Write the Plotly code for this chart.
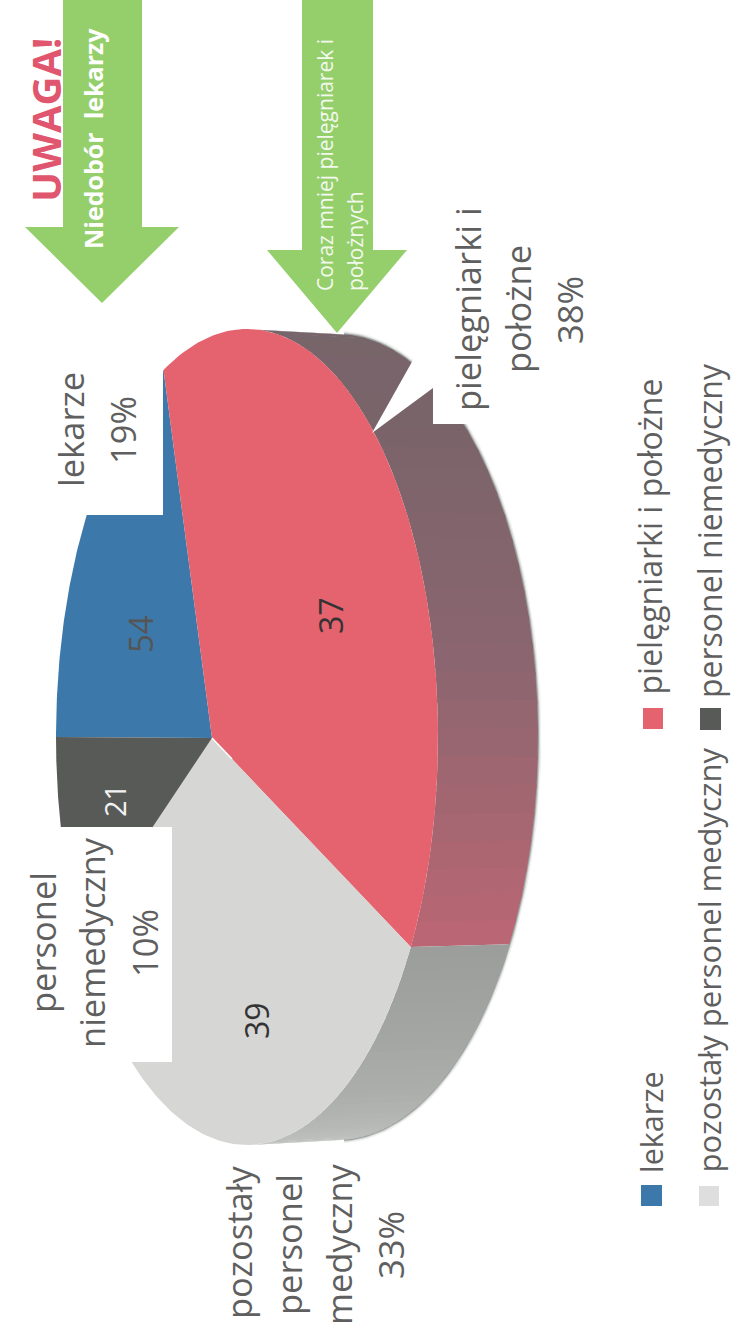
import numpy as np
import plotly.graph_objects as go

# --- data ---
categories = ["lekarze", "pielęgniarki i położne", "pozostały personel medyczny", "personel niemedyczny"]
percent_labels = ["19%", "38%", "33%", "10%"]
value_labels = ["54", "37", "39", "21"]
drawn_shares = [17.8, 40.8, 33.3, 8.1]   # angular share of each slice as drawn

colors = ["#3c79aa", "#e5626f", "#d6d6d5", "#585a58"]
W, H = 731, 1344
FONT = "Open Sans"
TEXT = "#5f5f5f"

# ellipse geometry of the tilted pie: top face and lower (outer) rim
cx, cy, a, b = 247, 737, 191, 408
ocx, ocy, oa, ob = 337, 737, 201, 403
apex = (212, 738)
start_deg = 180.0


def rim(t_deg):
    t = np.radians(t_deg)
    return cx + a * np.cos(t), cy + b * np.sin(t)


def outer(t_deg):
    t = np.radians(t_deg)
    return ocx + oa * np.cos(t), ocy + ob * np.sin(t)


def mix(stops, f):
    pts = np.array(stops, float)
    xs = np.linspace(0, 1, len(pts))
    c = [np.interp(f, xs, pts[:, i]) for i in range(3)]
    return "rgb(%d,%d,%d)" % tuple(c)


edges = start_deg + np.cumsum([0] + [s / sum(drawn_shares) * 360 for s in drawn_shares])

fig = go.Figure()

# soft shadow around the outer rim
ts = np.linspace(272, 448, 160)
ox, oy = outer(ts)
for w, op in [(7, 0.10), (4, 0.22), (2, 0.45)]:
    fig.add_trace(go.Scatter(x=ox, y=oy, mode="lines", line=dict(color=f"rgba(95,105,100,{op})", width=w),
                             hoverinfo="skip", showlegend=False))

# side wall, split by the slice edge
red_stops = [(118, 102, 106), (122, 100, 106), (140, 102, 112), (186, 102, 116)]
gray_stops = [(156, 158, 156), (172, 174, 172), (196, 198, 196)]
wall_break = edges[2]
for lo, hi, stops in [(270.0, wall_break, red_stops), (wall_break, 450.0, gray_stops)]:
    steps = np.linspace(lo, hi, 31)
    for i in range(30):
        tt = np.linspace(steps[i], min(steps[i + 1] + 0.6, hi), 5)
        x1, y1 = rim(tt)
        x2, y2 = outer(tt[::-1])
        fig.add_trace(go.Scatter(x=np.r_[x1, x2], y=np.r_[y1, y2], mode="lines", fill="toself",
                                 fillcolor=mix(stops, i / 29), line=dict(width=0),
                                 hoverinfo="skip", showlegend=False))

# top face slices
for i, name in enumerate(categories):
    tt = np.linspace(edges[i], edges[i + 1], 120)
    x, y = rim(tt)
    fig.add_trace(go.Scatter(x=np.r_[apex[0], x, apex[0]], y=np.r_[apex[1], y, apex[1]], mode="lines",
                             fill="toself", fillcolor=colors[i], line=dict(width=0), name=name,
                             hoverinfo="name", showlegend=False))

fig.add_trace(go.Scatter(x=[apex[0], 232], y=[apex[1], 759], mode="lines",
                         line=dict(color="white", width=1.5), hoverinfo="skip", showlegend=False))

GREEN = "#95cf6c"


def poly(points, color):
    return dict(type="path", xref="x", yref="y", layer="above", fillcolor=color, line=dict(width=0),
                path="M" + " L".join(f"{x},{y}" for x, y in points) + " Z")


shapes = [
    # arrows
    poly([(63, 0), (142, 0), (142, 227), (179, 227), (102, 303), (25, 227), (63, 227)], GREEN),
    poly([(302, 0), (373, 0), (373, 250), (407, 250), (337, 333), (267, 250), (302, 250)], GREEN),
    # white label boxes and the callout tail
    poly([(25, 345), (163, 345), (163, 515), (25, 515)], "white"),
    poly([(10, 827), (172, 827), (172, 1062), (10, 1062)], "white"),
    poly([(433, 195), (600, 195), (600, 424), (433, 424)], "white"),
    poly([(372, 433), (413, 360), (413, 335), (433, 335), (433, 388)], "white"),
    # legend swatches
    poly([(641, 1185), (662, 1185), (662, 1206), (641, 1206)], colors[0]),
    poly([(699, 1186), (719, 1186), (719, 1206), (699, 1206)], "#dedede"),
    poly([(643, 708), (663, 708), (663, 729), (643, 729)], colors[1]),
    poly([(700, 708), (721, 708), (721, 730), (700, 730)], colors[3]),
]


def label(x, y, text, size=34.5, color=TEXT, bold=False, anchor="middle"):
    fig.add_annotation(x=x, y=y, xref="x", yref="y", text=f"<b>{text}</b>" if bold else text,
                       showarrow=False, textangle=-90, xanchor="center", yanchor=anchor,
                       font=dict(family=FONT, size=size, color=color))


# callout labels
label(70, 430, categories[0])
label(122, 430, percent_labels[0])
label(467, 309, "pielęgniarki i")
label(517, 309, "położne")
label(569, 310, percent_labels[1])
label(42, 943, "personel")
label(91, 943, "niemedyczny")
label(144, 943, percent_labels[3])
label(238, 1243, "pozostały")
label(288, 1245, "personel")
label(338, 1244, "medyczny")
label(390, 1245, percent_labels[2])

# values on slices
label(140, 634, value_labels[0], size=33, color="#555555")
label(330, 616, value_labels[1], size=32, color="#333333")
label(256, 1021, value_labels[2], size=32, color="#333333")
label(114, 801, value_labels[3], size=29, color="#f2f2f2")

# legend text
label(651, 1175, categories[0], size=30.5, anchor="bottom")
label(708, 1175, categories[2], size=31, anchor="bottom")
label(648.5, 697, categories[1], size=32, anchor="bottom")
label(709.5, 700, categories[3], size=32, anchor="bottom")

# arrows' text
label(45, 120, "UWAGA!", size=40, color="#e0566e", bold=True)
label(93, 139, "Niedobór  lekarzy", size=25, color="white", bold=True)
label(325, 293, "Coraz mniej pielęgniarek i", size=21, color="#f2f8ec", anchor="bottom")
label(355, 293, "położnych", size=21, color="#f2f8ec", anchor="bottom")

fig.update_layout(
    width=W, height=H, margin=dict(l=0, r=0, t=0, b=0), showlegend=False,
    paper_bgcolor="white", plot_bgcolor="white", shapes=shapes,
    xaxis=dict(range=[0, W], visible=False, fixedrange=True),
    yaxis=dict(range=[H, 0], visible=False, fixedrange=True),
)
fig.write_html("out.html", config={"displayModeBar": False},
               post_script="document.body.style.margin='0';document.body.style.overflow='hidden';")
